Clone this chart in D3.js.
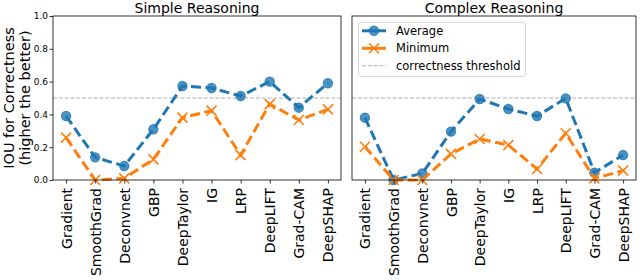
<!DOCTYPE html>
<html>
<head>
<meta charset="utf-8">
<script src="https://cdn.jsdelivr.net/npm/d3@7"></script>
<style>
  body { margin: 0; background: #fff; }
  svg { display: block; font-family: "DejaVu Sans", sans-serif; }
</style>
</head>
<body>
<svg id="chart" width="640" height="280"></svg>
<script>
const methods = ["Gradient", "SmoothGrad", "Deconvnet", "GBP", "DeepTaylor", "IG", "LRP", "DeepLIFT", "Grad-CAM", "DeepSHAP"];
const simpleAverage = [0.39, 0.138, 0.085, 0.309, 0.573, 0.561, 0.512, 0.60, 0.441, 0.59];
const simpleMinimum = [0.258, 0.0, 0.01, 0.126, 0.38, 0.423, 0.152, 0.463, 0.366, 0.431];
const complexAverage = [0.38, 0.0, 0.04, 0.295, 0.494, 0.433, 0.39, 0.498, 0.045, 0.152];
const complexMinimum = [0.203, 0.0, 0.0, 0.159, 0.25, 0.213, 0.067, 0.285, 0.01, 0.057];
const threshold = 0.5;
const yTicks = [0.0, 0.2, 0.4, 0.6, 0.8, 1.0];
const titles = ["Simple Reasoning", "Complex Reasoning"];
const legendLabels = ["Average", "Minimum", "correctness threshold"];

const svg = d3.select("#chart");
const plotTop = 16, plotBottom = 180;
const blue = "#1f77b4", orange = "#ff7f0e", grey = "#b0b0b0";

const y = d3.scaleLinear().domain([0, 1]).range([plotBottom, plotTop]);

const panels = [
  { x0: 53, x1: 341, avg: simpleAverage, min: simpleMinimum, title: titles[0], yLabels: true },
  { x0: 352, x1: 636, avg: complexAverage, min: complexMinimum, title: titles[1], yLabels: false }
];

function xMarker(g, cx, cy, s) {
  g.append("path")
    .attr("d", `M${cx - s},${cy - s}L${cx + s},${cy + s}M${cx - s},${cy + s}L${cx + s},${cy - s}`)
    .attr("stroke", orange).attr("stroke-width", 1.6).attr("fill", "none");
}

panels.forEach(p => {
  const x = d3.scaleLinear().domain([-0.45, methods.length - 1 + 0.45]).range([p.x0, p.x1]);
  const g = svg.append("g");

  // threshold
  g.append("line")
    .attr("x1", p.x0).attr("x2", p.x1)
    .attr("y1", y(threshold)).attr("y2", y(threshold))
    .attr("stroke", grey).attr("stroke-width", 1.1).attr("stroke-dasharray", "4,1.8");

  const line = d3.line().x((d, i) => x(i)).y(d => y(d));

  // Average
  g.append("path").datum(p.avg).attr("d", line)
    .attr("fill", "none").attr("stroke", blue).attr("stroke-width", 3)
    .attr("stroke-dasharray", "10,4.5");
  g.selectAll(".avgpt").data(p.avg).enter().append("circle")
    .attr("cx", (d, i) => x(i)).attr("cy", d => y(d)).attr("r", 4.6)
    .attr("fill", blue).attr("fill-opacity", 0.8)
    .attr("stroke", blue).attr("stroke-opacity", 0.8).attr("stroke-width", 1.2);

  // Minimum
  g.append("path").datum(p.min).attr("d", line)
    .attr("fill", "none").attr("stroke", orange).attr("stroke-width", 3)
    .attr("stroke-dasharray", "10,4.5");
  p.min.forEach((d, i) => xMarker(g, x(i), y(d), 5));

  // frame
  g.append("rect").attr("x", p.x0).attr("y", plotTop)
    .attr("width", p.x1 - p.x0).attr("height", plotBottom - plotTop)
    .attr("fill", "none").attr("stroke", "#000").attr("stroke-width", 0.8);

  // x axis
  const xAxis = d3.axisBottom(x).tickValues(d3.range(methods.length))
    .tickFormat(i => methods[i]).tickSize(3.5).tickSizeOuter(0);
  const xa = g.append("g").attr("transform", `translate(0,${plotBottom})`).call(xAxis);
  xa.select(".domain").remove();
  xa.selectAll("line").attr("stroke", "#000").attr("stroke-width", 0.8);
  xa.selectAll("text")
    .attr("font-size", 14).attr("font-family", "DejaVu Sans").attr("fill", "#000")
    .attr("transform", "rotate(-90)")
    .attr("text-anchor", "end")
    .attr("x", -8).attr("y", 0).attr("dy", "0.36em");

  // y axis
  const yAxis = d3.axisLeft(y).tickValues(yTicks).tickSize(3.5)
    .tickFormat(p.yLabels ? d3.format(".1f") : () => "");
  const ya = g.append("g").attr("transform", `translate(${p.x0},0)`).call(yAxis);
  ya.select(".domain").remove();
  ya.selectAll("line").attr("stroke", "#000").attr("stroke-width", 0.8);
  if (!p.yLabels) ya.selectAll("line").remove();
  ya.selectAll("text").attr("font-size", 9).attr("font-family", "DejaVu Sans").attr("fill", "#000").attr("x", -5);

  // title
  g.append("text").attr("x", (p.x0 + p.x1) / 2).attr("y", 12.5)
    .attr("text-anchor", "middle").attr("font-size", 14).attr("fill", "#000").text(p.title);
});

// y label
const yl = svg.append("text").attr("transform", `translate(0,${(plotTop + plotBottom) / 2}) rotate(-90)`)
  .attr("text-anchor", "middle").attr("font-size", 14.5).attr("fill", "#000");
yl.append("tspan").attr("x", 0).attr("y", 14).text("IOU for Correctness");
yl.append("tspan").attr("x", 0).attr("y", 30).text("(higher the better)");

// legend
const lg = svg.append("g");
lg.append("rect").attr("x", 358.5).attr("y", 22.5).attr("width", 167).attr("height", 54)
  .attr("rx", 2.5).attr("fill", "#fff").attr("fill-opacity", 0.8)
  .attr("stroke", "#d0d0d0").attr("stroke-width", 0.8);
const rows = [30.8, 48.3, 65.7];
const lx0 = 362, lx1 = 386, lmx = 374;
// Average
lg.append("line").attr("x1", lx0).attr("x2", lx1).attr("y1", rows[0]).attr("y2", rows[0])
  .attr("stroke", blue).attr("stroke-width", 3);
lg.append("circle").attr("cx", lmx).attr("cy", rows[0]).attr("r", 4.6)
  .attr("fill", blue).attr("fill-opacity", 0.8).attr("stroke", blue).attr("stroke-opacity", 0.8).attr("stroke-width", 1.2);
// Minimum
lg.append("line").attr("x1", lx0).attr("x2", lx1).attr("y1", rows[1]).attr("y2", rows[1])
  .attr("stroke", orange).attr("stroke-width", 3);
xMarker(lg, lmx, rows[1], 5);
// threshold
lg.append("line").attr("x1", lx0).attr("x2", lx1).attr("y1", rows[2]).attr("y2", rows[2])
  .attr("stroke", grey).attr("stroke-width", 1.1).attr("stroke-dasharray", "4,1.8");
legendLabels.forEach((t, i) => {
  lg.append("text").attr("x", 396).attr("y", rows[i]).attr("dy", "0.36em")
    .attr("font-size", 11.5).attr("fill", "#000").text(t);
});
</script>
</body>
</html>
